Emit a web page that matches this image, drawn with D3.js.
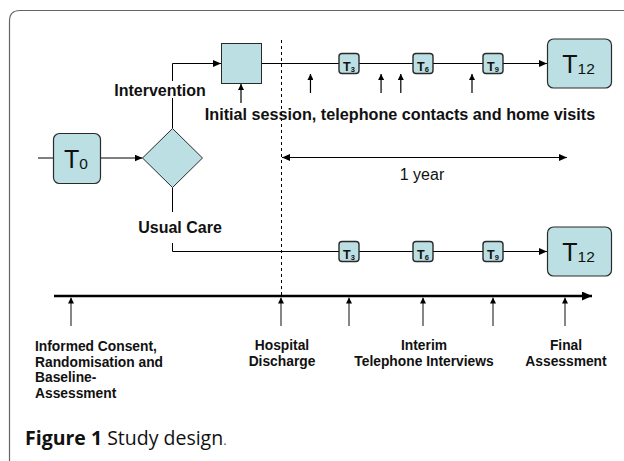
<!DOCTYPE html>
<html>
<head>
<meta charset="utf-8">
<script src="https://cdn.jsdelivr.net/npm/d3@7"></script>
<style>
  html, body { margin: 0; padding: 0; background: #fff; }
  svg { display: block; }
  .lbl { font-family: "Liberation Sans", Arial, sans-serif; fill: #111; }
</style>
</head>
<body>
<svg id="chart" width="624" height="461"></svg>
<script>
// ---- data ----
const followUpMonths = [0, 3, 6, 9, 12];
const checkpointLabels = ["3", "6", "9"];
const checkpointMonths = [3, 6, 9];
const finalMonth = 12;
const contactMonths = [1.3, 4.3, 5.1, 8.1];
const interviewMonths = [3, 6, 9];
const bottomLabels = [
  { month: 0, lines: ["Hospital", "Discharge"] },
  { month: 6, lines: ["Interim", "Telephone Interviews"] },
  { month: 12, lines: ["Final", "Assessment"] }
];
const consentLines = ["Informed Consent,", "Randomisation and", "Baseline-", "Assessment"];
const armLabels = ["Intervention", "Usual Care"];

// ---- layout ----
const svg = d3.select("#chart");
const fill = "#bbdfe3";
const stroke = "#2a2a2a";
const x = d3.scaleLinear().domain(followUpMonths).range([281, 349, 423, 493, 565]);
const upperY = 63.5, lowerY = 251.5, timelineY = 296, midY = 158;
const diamond = { cx: 172.5, cy: 158, hw: 30, hh: 29.5 };

// frame
svg.append("path")
  .attr("d", "M9.5,461 L9.5,21 Q9.5,10.5 20,10.5 L624,10.5")
  .attr("fill", "none").attr("stroke", "#666").attr("stroke-width", 1.2);

// markers
const defs = svg.append("defs");
function marker(id, len, half) {
  defs.append("marker").attr("id", id)
    .attr("markerUnits", "userSpaceOnUse")
    .attr("viewBox", `0 ${-half} ${len} ${half * 2}`)
    .attr("refX", len).attr("refY", 0)
    .attr("markerWidth", len).attr("markerHeight", half * 2)
    .attr("orient", "auto-start-reverse")
    .append("path").attr("d", `M0,${-half} L${len},0 L0,${half} Z`).attr("fill", "#000");
}
marker("ah", 8, 3.5);
marker("ahs", 6, 3);
marker("ahb", 10, 4.5);

const line = (d) => d3.line()(d);
function path(pts, opts = {}) {
  const p = svg.append("path").attr("d", line(pts)).attr("fill", "none")
    .attr("stroke", opts.color || "#000").attr("stroke-width", opts.w || 1);
  if (opts.end) p.attr("marker-end", `url(#${opts.end})`);
  if (opts.start) p.attr("marker-start", `url(#${opts.start})`);
  if (opts.dash) p.attr("stroke-dasharray", opts.dash);
  return p;
}

// T0 input line + arrow to diamond
path([[38, midY], [53, midY]]);
path([[100, midY], [diamond.cx - diamond.hw, midY]], { end: "ah" });

// intervention branch
path([[diamond.cx, diamond.cy - diamond.hh], [diamond.cx, upperY], [221, upperY]], { end: "ah" });
// upper follow-up line
path([[261, upperY], [547, upperY]], { end: "ah" });
// usual care branch
path([[diamond.cx, diamond.cy + diamond.hh], [diamond.cx, lowerY], [547, lowerY]], { end: "ah" });

// dashed discharge line
path([[x(0) + 0.5, 40], [x(0) + 0.5, timelineY]], { dash: "3,3" });

// 1 year arrow
path([[x(0) + 1, 157.5], [567, 157.5]], { start: "ah", end: "ah" });

// main timeline
path([[54, timelineY], [592, timelineY]], { w: 2.5, end: "ahb" });

// events arrows below timeline
const eventX = [71, x(0), ...interviewMonths.map(x), x(finalMonth)];
eventX.forEach(ex => path([[ex, 326], [ex, timelineY + 1.5]], { color: "#444", w: 1.3, end: "ahs" }));

// contacts arrows
path([[241, 103], [241, 84]], { w: 1.2, end: "ahs" });
contactMonths.forEach(m => path([[x(m), 93], [x(m), 74]], { w: 1.2, end: "ahs" }));

// diamond
svg.append("path")
  .attr("d", line([[diamond.cx, diamond.cy - diamond.hh], [diamond.cx + diamond.hw, diamond.cy],
    [diamond.cx, diamond.cy + diamond.hh], [diamond.cx - diamond.hw, diamond.cy]]) + "Z")
  .attr("fill", fill).attr("stroke", stroke).attr("stroke-width", 1);

// initial session box
svg.append("rect").attr("x", 221.5).attr("y", 43.5).attr("width", 40).attr("height", 40)
  .attr("fill", fill).attr("stroke", stroke);

// big T boxes
function bigBox(x0, y0, w, h, sub) {
  svg.append("rect").attr("x", x0).attr("y", y0).attr("width", w).attr("height", h)
    .attr("rx", 6).attr("fill", fill).attr("stroke", stroke).attr("stroke-width", 1.2);
  const t = svg.append("text").attr("class", "lbl").attr("text-anchor", "middle")
    .attr("x", x0 + w / 2 - 1).attr("y", y0 + h / 2 + 9);
  t.append("tspan").attr("font-size", 25).text("T");
  t.append("tspan").attr("font-size", 15.5).attr("dy", 1).text(sub);
}
bigBox(53.5, 133.5, 47, 50, "0");
bigBox(x(finalMonth) - 18 + 0.5, upperY - 24.5, 64, 49, "12");
bigBox(x(finalMonth) - 18 + 0.5, lowerY - 24.5, 64, 49, "12");

// small checkpoint boxes
[upperY, lowerY].forEach(cy => {
  checkpointMonths.forEach((m, i) => {
    const cx = x(m);
    svg.append("rect").attr("x", cx - 10).attr("y", cy - 10).attr("width", 20).attr("height", 20)
      .attr("rx", 3).attr("fill", fill).attr("stroke", stroke).attr("stroke-width", 1.4);
    const t = svg.append("text").attr("class", "lbl").attr("text-anchor", "middle")
      .attr("font-weight", "bold").attr("x", cx).attr("y", cy + 7.5);
    t.append("tspan").attr("font-size", 12.5).text("T");
    t.append("tspan").attr("font-size", 7.5).attr("dy", 1).text(checkpointLabels[i]);
  });
});

// arm labels with white backgrounds
function bgText(txt, cx, base, bg) {
  svg.append("rect").attr("x", cx - 50).attr("y", bg[0]).attr("width", 100).attr("height", bg[1] - bg[0])
    .attr("fill", "#fff");
  svg.append("text").attr("class", "lbl").attr("text-anchor", "middle").attr("font-weight", "bold")
    .attr("font-size", 16).attr("x", cx).attr("y", base).text(txt);
}
bgText(armLabels[0], 160, 96, [81, 98]);
bgText(armLabels[1], 180, 233, [212, 243]);

svg.append("text").attr("class", "lbl").attr("text-anchor", "middle").attr("font-weight", "bold")
  .attr("font-size", 16.2).attr("x", 400).attr("y", 120)
  .text("Initial session, telephone contacts and home visits");

svg.append("text").attr("class", "lbl").attr("text-anchor", "middle")
  .attr("font-size", 16).attr("x", x(6) - 1).attr("y", 180).text("1 year");

// bottom labels
const lh = 15.6;
const fs = 13.8;
const ct = svg.append("text").attr("class", "lbl").attr("font-weight", "bold").attr("font-size", fs);
consentLines.forEach((l, i) => ct.append("tspan").attr("x", 35).attr("y", 351 + i * lh).text(l));
bottomLabels.forEach(b => {
  const t = svg.append("text").attr("class", "lbl").attr("font-weight", "bold").attr("font-size", fs)
    .attr("text-anchor", "middle");
  b.lines.forEach((l, i) => t.append("tspan").attr("x", x(b.month) + 1).attr("y", 350 + i * lh).text(l));
});

// caption
const cap = svg.append("text").attr("x", 25).attr("y", 445)
  .attr("font-family", "'Open Sans', 'Noto Sans', sans-serif").attr("font-size", 19.5).attr("fill", "#111");
cap.append("tspan").attr("font-weight", "bold").text("Figure 1");
cap.append("tspan").text(" Study design");
cap.append("tspan").attr("font-size", 13).attr("fill", "#555").text(".");
</script>
</body>
</html>
